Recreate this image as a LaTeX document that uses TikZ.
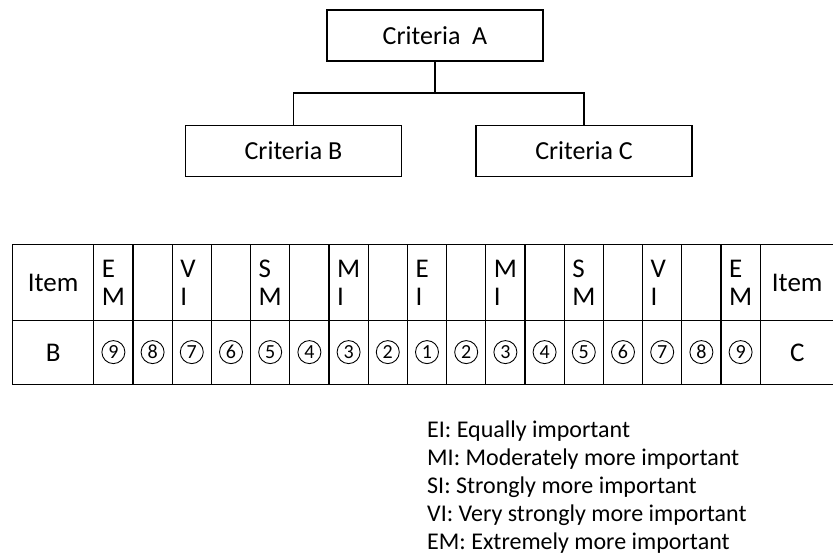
\documentclass[tikz,border=0pt]{standalone}
\usepackage{fontspec}
\setmainfont{Carlito}
\usetikzlibrary{calc}
\tikzset{
  box/.style={draw,line width=1.2pt,minimum width=216pt,minimum height=51pt,
    font=\fontsize{26}{30}\selectfont},
  cell/.style={draw,line width=1.2pt,anchor=north west,inner sep=0pt},
  headcell/.style={cell,minimum width=39.2pt,minimum height=76pt,text width=23pt,
    inner xsep=8pt,align=left,font=\fontsize{27}{28}\selectfont},
  numcell/.style={cell,minimum width=39.2pt,minimum height=64pt},
  circnum/.style={circle,draw,line width=0.9pt,inner sep=0pt,minimum size=23pt,
    font=\fontsize{20}{22}\selectfont},
  itemcell/.style={cell,minimum height=#1,font=\fontsize{27}{30}\selectfont},
  legend/.style={anchor=base west,inner sep=0pt,font=\fontsize{24}{28}\selectfont}
}
\begin{document}
\begin{tikzpicture}[x=1pt,y=-1pt]
\useasboundingbox (0,0) rectangle (833,556);
\node[box] (a) at (435,35.5) {Criteria\ \ A};
\node[box] (b) at (293.5,151) {Criteria B};
\node[box] (c) at (584,151) {Criteria C};
\coordinate (j) at (435,93);
\draw[line width=1.2pt] (a) -- (j);
\draw[line width=1.2pt] (b.north) |- (j) -| (c.north);
\node[itemcell=76pt,minimum width=81.2pt] (itemb) at (12,244) {Item};
\node[itemcell=64pt,minimum width=81.2pt] (b0) at (12,320) {B};
\foreach \i/\t in {1/{E\\M},2/{},3/{V\\I},4/{},5/{S\\M},6/{},7/{M\\I},8/{},9/{E\\I},
  10/{},11/{M\\I},12/{},13/{S\\M},14/{},15/{V\\I},16/{},17/{E\\M}}
  \node[headcell] (h\i) at ({93.2+(\i-1)*39.2},244) {\t};
\foreach \i/\n in {1/9,2/8,3/7,4/6,5/5,6/4,7/3,8/2,9/1,
  10/2,11/3,12/4,13/5,14/6,15/7,16/8,17/9}{
  \node[numcell] (n\i) at ({93.2+(\i-1)*39.2},320) {};
  \node[circnum] (d\i) at ($(n\i)+(0,-0.5)$) {\n};
}
\node[itemcell=76pt,minimum width=76pt] (itemc) at (759.6,244) {\hspace*{-2pt}Item};
\node[itemcell=64pt,minimum width=76pt] (c0) at (759.6,320) {\hspace*{-2pt}C};
\node[legend] (l1) at (427,437) {EI: Equally important};
\node[legend] (l2) at (427,465.5) {MI: Moderately more important};
\node[legend] (l3) at (427,493.5) {SI: Strongly more important};
\node[legend] (l4) at (427,521.5) {VI: Very strongly more important};
\node[legend] (l5) at (427,549) {EM: Extremely more important};
\end{tikzpicture}
\end{document}
